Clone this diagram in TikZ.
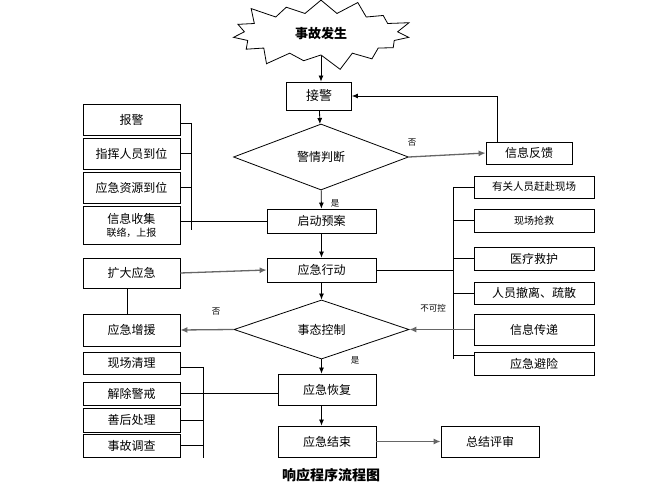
\documentclass[tikz,border=0pt]{standalone}
\usepackage{fontspec}
\setmainfont{Noto Sans CJK SC}
\usetikzlibrary{arrows.meta,shapes.geometric,shapes.symbols}
\tikzset{
	box/.style={draw, line width=0.8pt, inner sep=0pt, minimum width=97pt, font=\fontsize{12pt}{14pt}\selectfont},
	decide/.style={draw, diamond, line width=0.8pt, inner sep=0pt, minimum width=175pt, font=\fontsize{12pt}{14pt}\selectfont},
	arr/.style={line width=0.8pt, -{Latex[length=6pt,width=5pt]}},
	garr/.style={line width=1.3pt, draw=black!60, -{Latex[length=7pt,width=6pt]}},
	lbl/.style={inner sep=0pt, font=\fontsize{8.5pt}{10pt}\selectfont},
	lnk/.style={line width=0.8pt}
}

\begin{document}
\begin{tikzpicture}[x=1pt, y=-1pt]
		%%%%% START %%%%%
		
		\useasboundingbox (0, 0) rectangle (657, 489);
		
		\node[draw, line width=0.8pt, starburst, starburst points=15, starburst point height=18pt, minimum width=190pt, minimum height=78pt, inner sep=0pt, font=\bfseries\fontsize{13pt}{14pt}\selectfont] (star) at (321, 34) {事故发生};
		
		\node[box, minimum width=65pt, minimum height=28pt, font=\fontsize{13pt}{14pt}\selectfont] (jiejing) at (319, 96) {接警};
		\node[decide, minimum height=66pt] (panduan) at (321, 157) {警情判断};
		\node[box, minimum width=86pt, minimum height=22pt] (fankui) at (529, 153) {信息反馈};
		\node[box, minimum width=109pt, minimum height=24pt] (qidong) at (321.5, 221) {启动预案};
		
		\node[box, minimum height=31pt] (baojing) at (131.5, 119.5) {报警};
		\node[box, minimum height=31pt] (zhihui) at (131.5, 153.5) {指挥人员到位};
		\node[box, minimum height=31pt] (ziyuan) at (131.5, 187.5) {应急资源到位};
		\node[box, minimum height=38pt, align=center] (xinxi) at (131.5, 225) {信息收集\\[-1pt]{\fontsize{10pt}{11pt}\selectfont 联络，上报}};
		
		\node[box, minimum width=109pt, minimum height=24pt] (xingdong) at (321.5, 270) {应急行动};
		\node[box, minimum height=30pt] (kuoda) at (131.5, 273) {扩大应急};
		\node[box, minimum height=32pt] (zengyuan) at (131.5, 330) {应急增援};
		\node[decide, minimum height=45pt] (kongzhi) at (321.5, 329.5) {事态控制};
		
		\node[box, minimum width=120pt, minimum height=22pt, font=\fontsize{10.5pt}{12pt}\selectfont] (ganfu) at (534, 187) {有关人员赶赴现场};
		\node[box, minimum width=120pt, minimum height=23pt, font=\fontsize{10pt}{12pt}\selectfont] (qiangjiu) at (534, 220.5) {现场抢救};
		\node[box, minimum width=120pt, minimum height=23pt] (jiuhu) at (534, 258.5) {医疗救护};
		\node[box, minimum width=120pt, minimum height=22pt] (chesan) at (534, 293) {人员撤离、疏散};
		\node[box, minimum width=120pt, minimum height=31pt] (chuandi) at (534, 329.5) {信息传递};
		\node[box, minimum width=120pt, minimum height=23pt] (bixian) at (534, 363.5) {应急避险};
		
		\node[box, minimum width=98pt, minimum height=31pt] (huifu) at (327, 389.5) {应急恢复};
		\node[box, minimum width=98pt, minimum height=31pt] (jieshu) at (327, 441.5) {应急结束};
		\node[box, minimum width=98pt, minimum height=31pt] (pingshen) at (490, 441.5) {总结评审};
		
		\node[box, minimum height=22pt] (qingli) at (131.5, 363) {现场清理};
		\node[box, minimum height=23pt] (jiechu) at (131.5, 393.5) {解除警戒};
		\node[box, minimum height=24pt] (shanhou) at (131.5, 420) {善后处理};
		\node[box, minimum height=23pt] (diaocha) at (131.5, 445.5) {事故调查};
		
		\node[font=\bfseries\fontsize{14pt}{16pt}\selectfont] (title) at (331, 475) {响应程序流程图};
		
		%% main line
		\draw[arr] (star.center |- 0, 56) -- (star.center |- jiejing.north);
		\draw[arr] (jiejing) -- (panduan);
		\draw[arr] (panduan) -- (qidong);
		\draw[arr] (qidong) -- (xingdong);
		\draw[arr] (xingdong) -- (kongzhi);
		\draw[arr] (kongzhi.south) -- (kongzhi.south |- huifu.north);
		\draw[arr] (kongzhi.south |- huifu.south) -- (kongzhi.south |- jieshu.north);
		\draw[garr] (jieshu) -- (pingshen);
		
		%% feedback
		\draw[garr] (panduan.east) -- (fankui.west);
		\draw[arr] ([xshift=-32pt]fankui.north) |- (jiejing.east);
		\node[lbl] (fou1) at (412, 143) {否};
		\node[lbl] (shi1) at (335, 203) {是};
		
		%% left bracket, top
		\coordinate (lt) at (191, 123);
		\coordinate (lb) at (191, 230);
		\draw[lnk] (lt) -- (lb);
		\draw[lnk] (baojing.east |- lt) -- (lt);
		\draw[lnk] (zhihui.east) -- (zhihui.east -| lt);
		\draw[lnk] (ziyuan.east) -- (ziyuan.east -| lt);
		\draw[lnk] (xinxi.east |- qidong.west) -- (qidong.west);
		
		%% right bracket
		\coordinate (rt) at (453, 187);
		\coordinate (rb) at (453, 359);
		\draw[lnk] (rt) -- (rb);
		\draw[lnk] (xingdong.east) -- (xingdong.east -| rt);
		\draw[lnk] (rt) -- (ganfu.west);
		\draw[lnk] (qiangjiu.west -| rt) -- (qiangjiu.west);
		\draw[lnk] (jiuhu.west -| rt) -- (jiuhu.west);
		\draw[lnk] (chesan.west -| rt) -- (chesan.west);
		\draw[lnk] (rb -| bixian.west) ++(0, -4) -- ++(-21, 0);
		\draw[garr] (chuandi.west) -- (kongzhi.east);
		\node[lbl] (bukekong) at (433, 308) {不可控};
		
		%% escalation
		\draw[garr] (kuoda.east) -- (xingdong.west);
		\draw[lnk] ([xshift=-4pt]kuoda.south) -- ([xshift=-4pt]zengyuan.north);
		\draw[garr] (kongzhi.west) -- (zengyuan.east);
		\node[lbl] (fou2) at (216, 312) {否};
		\node[lbl] (shi2) at (355, 360) {是};
		
		%% left bracket, bottom
		\coordinate (bt) at (203, 367);
		\coordinate (bb) at (203, 458);
		\draw[lnk] (bt) -- (bb);
		\draw[lnk] (qingli.east |- bt) -- (bt);
		\draw[lnk] (jiechu.east) -- (jiechu.east -| huifu.west);
		\draw[lnk] (shanhou.east) -- (shanhou.east -| bt);
		\draw[lnk] (diaocha.east) -- (diaocha.east -| bt);
		
		%%%%% END %%%%%
\end{tikzpicture}
\end{document}
